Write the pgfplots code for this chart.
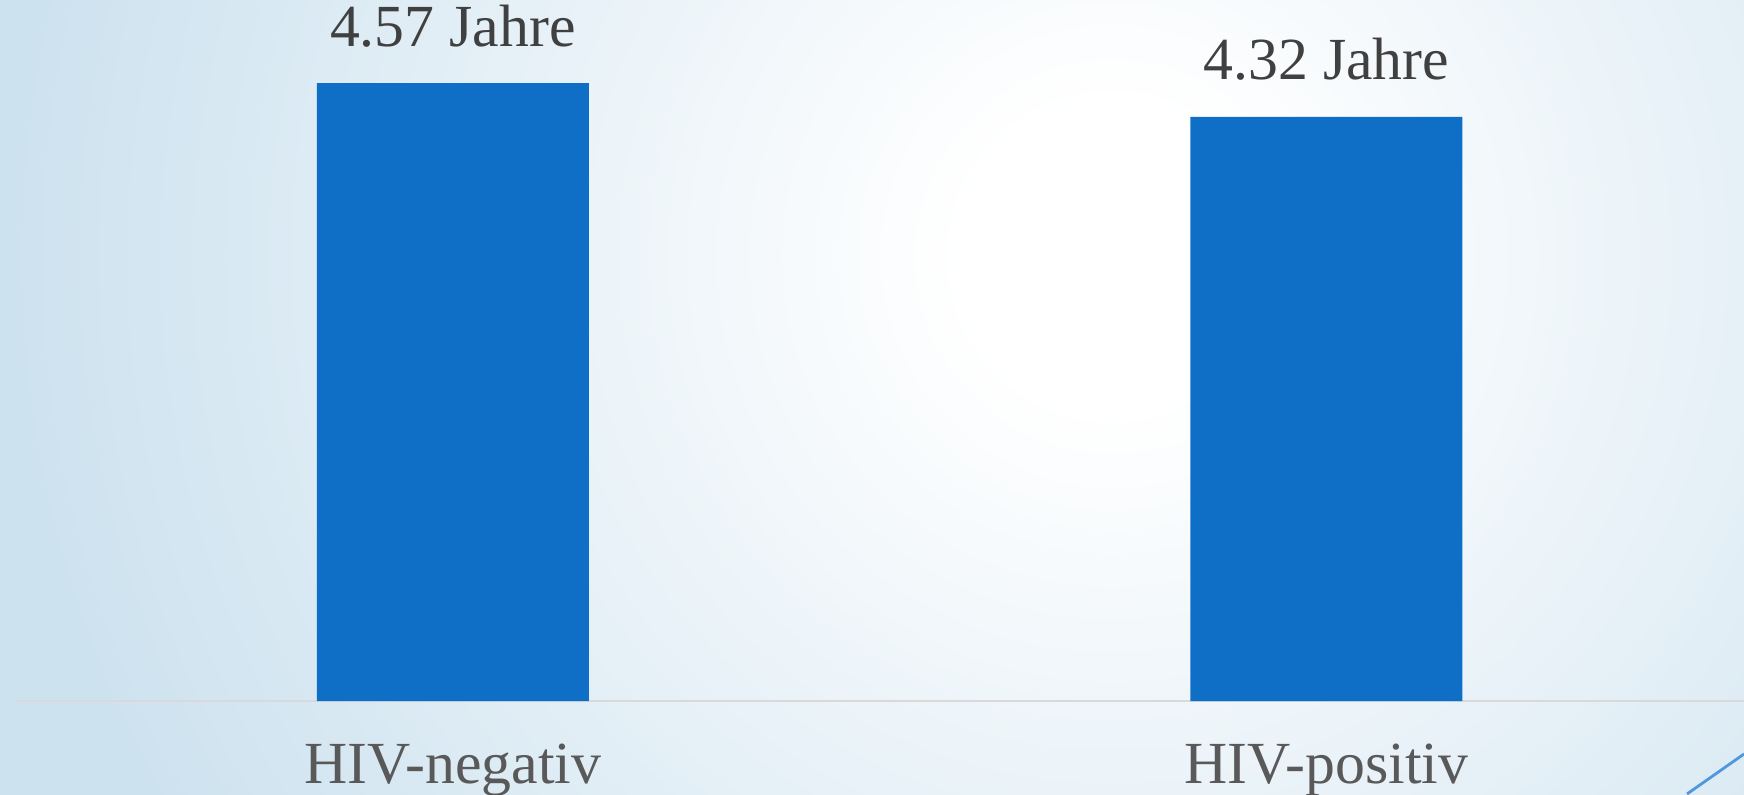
\documentclass[border=0pt]{standalone}
\usepackage{fontspec}
\setmainfont{Liberation Serif}
\usepackage{pgfplots}
\pgfplotsset{compat=1.18}
\definecolor{barblue}{RGB}{15,111,198}
\definecolor{bgblue}{RGB}{205,226,239}
\definecolor{valgray}{RGB}{64,64,64}
\definecolor{catgray}{RGB}{89,89,89}
\definecolor{basegray}{RGB}{217,217,217}
\definecolor{decoblue}{RGB}{79,152,220}
% slide background: white glow, light blue towards the edges
\pgfdeclareradialshading{bgglow}{\pgfpoint{0cm}{0cm}}{%
    color(0cm)=(white); color(1.5cm)=(white);
    color(11cm)=(bgblue); color(25cm)=(bgblue)}
\begin{document}
\begin{tikzpicture}
\clip (0,0) rectangle (17.44,7.94);
\node[inner sep=0pt, outer sep=0pt] at (11.12,5.38) {\pgfuseshading{bgglow}};
\draw[decoblue, line width=0.8pt] (16.87,0) -- (17.44,0.4);
\begin{axis}[
    at={(0.16cm,0.93cm)}, anchor=south west,
    scale only axis,
    width=17.28cm,
    height=6.7613cm,
    ybar,
    bar width=2.72cm,
    xmin=-0.5, xmax=1.478,
    ymin=0, ymax=5,
    axis x line*=bottom,
    axis y line=none,
    x axis line style={draw=basegray, line width=0.6pt, -},
    xtick={0,1},
    xticklabels={HIV-negativ,HIV-positiv},
    major tick length=0pt,
    ytick=\empty,
    xticklabel style={anchor=base, yshift=-8.2mm,
        font=\fontsize{17}{19}\selectfont, text=catgray},
    nodes near coords={\pgfmathprintnumber[fixed,fixed zerofill,precision=2]{\pgfplotspointmeta}~Jahre},
    nodes near coords style={anchor=base, yshift=3.7mm,
        font=\fontsize{17}{19}\selectfont, text=valgray,
        /pgf/number format/assume math mode=true},
    clip=false,
]
    \addplot[fill=barblue, draw=none] coordinates {
        (0,4.57)
        (1,4.32)
    };
\end{axis}
\end{tikzpicture}
\end{document}
